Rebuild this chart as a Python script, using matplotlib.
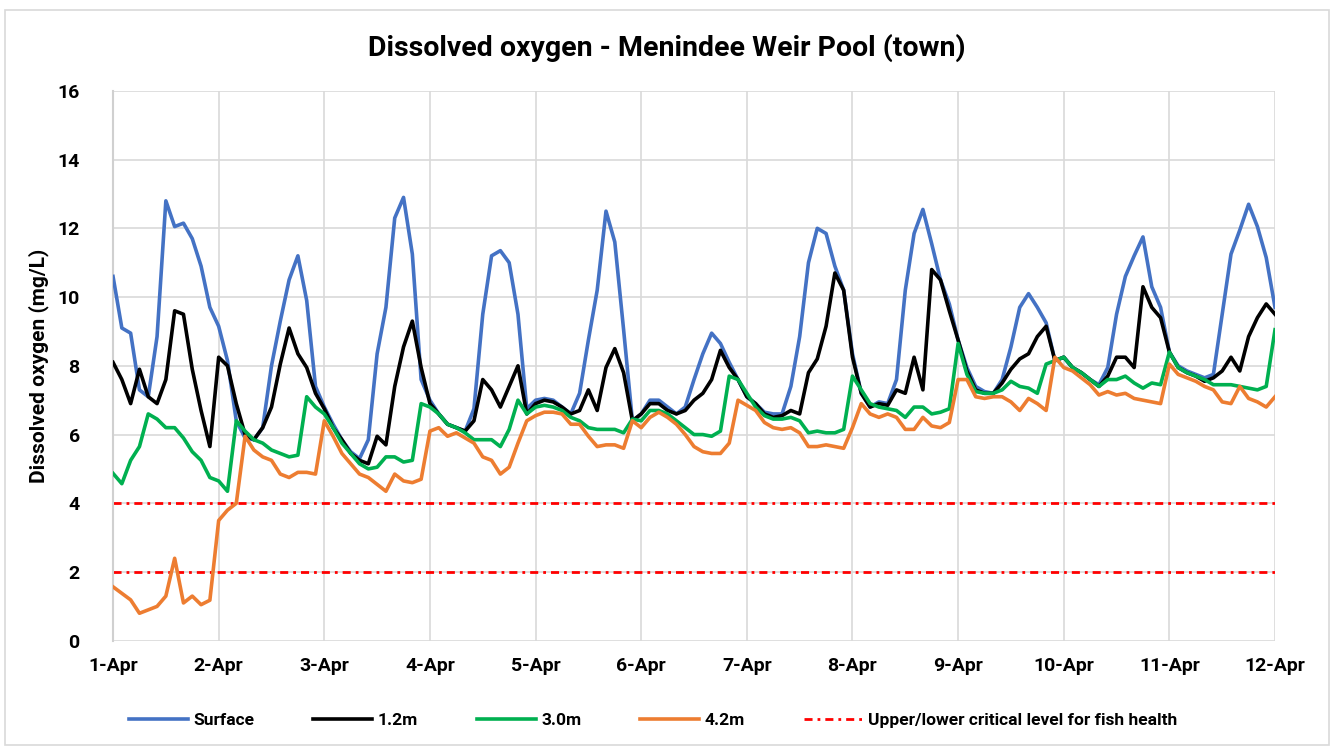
import numpy as np
import matplotlib
matplotlib.use('Agg')
import matplotlib.pyplot as plt
from matplotlib.patches import Rectangle

plt.rcParams['font.family'] = ['Roboto', 'DejaVu Sans']

# 2-hourly readings, 1-Apr 00:00 to 12-Apr 00:00
hours = np.arange(0, 265, 2)
day_labels = ['1-Apr', '2-Apr', '3-Apr', '4-Apr', '5-Apr', '6-Apr',
              '7-Apr', '8-Apr', '9-Apr', '10-Apr', '11-Apr', '12-Apr']

surface = [10.6, 9.1, 8.95, 7.3, 7.1, 8.85, 12.8, 12.05, 12.15, 11.7, 10.9, 9.7,
           9.15, 8.15, 6.4, 5.9, 5.85, 6.2, 8.0, 9.3, 10.5, 11.2, 9.9, 7.4,
           6.8, 6.3, 5.85, 5.5, 5.3, 5.85, 8.35, 9.7, 12.3, 12.9, 11.25, 7.6,
           7.0, 6.6, 6.3, 6.2, 6.1, 6.75, 9.5, 11.2, 11.35, 11.0, 9.5, 6.75,
           7.0, 7.05, 7.0, 6.8, 6.6, 7.2, 8.75, 10.2, 12.5, 11.6, 9.05, 6.4,
           6.6, 7.0, 7.0, 6.8, 6.6, 6.8, 7.6, 8.35, 8.95, 8.65, 8.1, 7.6,
           7.1, 6.9, 6.65, 6.6, 6.6, 7.4, 8.85, 11.0, 12.0, 11.85, 10.9, 10.2,
           8.35, 7.2, 6.8, 6.95, 6.9, 7.6, 10.2, 11.85, 12.55, 11.55, 10.5, 9.8,
           8.75, 7.95, 7.4, 7.25, 7.2, 7.6, 8.55, 9.7, 10.1, 9.7, 9.25, 8.15,
           8.25, 7.95, 7.8, 7.6, 7.45, 7.95, 9.5, 10.6, 11.2, 11.75, 10.3, 9.7,
           8.4, 8.0, 7.85, 7.75, 7.65, 7.75, 9.5, 11.25, 11.95, 12.7, 12.05, 11.15,
           9.7]

m1_2 = [8.1, 7.6, 6.9, 7.9, 7.1, 6.9, 7.6, 9.6, 9.5, 7.9, 6.7, 5.65,
        8.25, 8.0, 6.9, 6.0, 5.85, 6.2, 6.8, 8.05, 9.1, 8.35, 7.95, 7.2,
        6.75, 6.2, 5.85, 5.45, 5.25, 5.15, 5.95, 5.7, 7.4, 8.55, 9.3, 7.95,
        6.9, 6.6, 6.3, 6.2, 6.1, 6.4, 7.6, 7.3, 6.8, 7.4, 8.0, 6.6,
        6.9, 7.0, 6.95, 6.8, 6.6, 6.7, 7.3, 6.7, 7.95, 8.5, 7.8, 6.4,
        6.6, 6.9, 6.9, 6.7, 6.6, 6.7, 7.0, 7.2, 7.6, 8.45, 7.95, 7.6,
        7.1, 6.9, 6.6, 6.5, 6.55, 6.7, 6.6, 7.8, 8.2, 9.15, 10.7, 10.2,
        8.25, 7.2, 6.8, 6.9, 6.85, 7.3, 7.2, 8.25, 7.3, 10.8, 10.5, 9.6,
        8.75, 7.85, 7.3, 7.2, 7.2, 7.5, 7.9, 8.2, 8.35, 8.85, 9.15, 8.15,
        8.25, 7.95, 7.8, 7.6, 7.4, 7.7, 8.25, 8.25, 7.95, 10.3, 9.7, 9.4,
        8.4, 7.95, 7.8, 7.7, 7.55, 7.65, 7.85, 8.25, 7.85, 8.85, 9.4, 9.8,
        9.5]

m3_0 = [4.87, 4.57, 5.25, 5.65, 6.6, 6.45, 6.2, 6.2, 5.9, 5.5, 5.25, 4.75,
        4.65, 4.35, 6.4, 6.1, 5.85, 5.75, 5.55, 5.45, 5.35, 5.4, 7.1, 6.8,
        6.6, 6.2, 5.75, 5.45, 5.15, 5.0, 5.05, 5.35, 5.35, 5.2, 5.25, 6.9,
        6.8, 6.6, 6.3, 6.2, 6.05, 5.85, 5.85, 5.85, 5.65, 6.15, 7.0, 6.6,
        6.8, 6.85, 6.8, 6.7, 6.5, 6.4, 6.2, 6.15, 6.15, 6.15, 6.05, 6.45,
        6.4, 6.7, 6.7, 6.6, 6.4, 6.2, 6.0, 6.0, 5.95, 6.1, 7.7, 7.6,
        7.2, 6.8, 6.55, 6.45, 6.45, 6.5, 6.4, 6.05, 6.1, 6.05, 6.05, 6.15,
        7.7, 7.3, 6.9, 6.8, 6.75, 6.7, 6.5, 6.8, 6.8, 6.6, 6.65, 6.75,
        8.65, 7.75, 7.25, 7.2, 7.2, 7.3, 7.55, 7.4, 7.35, 7.2, 8.05, 8.15,
        8.25, 7.95, 7.8, 7.6, 7.4, 7.6, 7.6, 7.7, 7.5, 7.35, 7.5, 7.45,
        8.4, 7.95, 7.8, 7.7, 7.6, 7.45, 7.45, 7.45, 7.4, 7.35, 7.3, 7.4,
        9.05]

m4_2 = [1.57, 1.38, 1.19, 0.8, 0.9, 1.0, 1.3, 2.4, 1.1, 1.3, 1.05, 1.18,
        3.5, 3.8, 4.0, 5.95, 5.55, 5.35, 5.25, 4.85, 4.75, 4.9, 4.9, 4.85,
        6.4, 5.95, 5.45, 5.15, 4.85, 4.75, 4.55, 4.35, 4.85, 4.65, 4.6, 4.7,
        6.1, 6.2, 5.95, 6.05, 5.9, 5.75, 5.35, 5.25, 4.85, 5.05, 5.75, 6.4,
        6.55, 6.65, 6.65, 6.6, 6.3, 6.3, 5.95, 5.65, 5.7, 5.7, 5.6, 6.4,
        6.2, 6.5, 6.65, 6.5, 6.3, 6.0, 5.65, 5.5, 5.45, 5.45, 5.75, 7.0,
        6.85, 6.7, 6.35, 6.2, 6.15, 6.2, 6.05, 5.65, 5.65, 5.7, 5.65, 5.6,
        6.2, 6.9, 6.6, 6.5, 6.6, 6.5, 6.15, 6.15, 6.5, 6.25, 6.2, 6.35,
        7.6, 7.6, 7.1, 7.05, 7.1, 7.1, 6.95, 6.7, 7.05, 6.9, 6.7, 8.25,
        7.95, 7.85, 7.65, 7.45, 7.15, 7.25, 7.15, 7.2, 7.05, 7.0, 6.95, 6.9,
        8.05, 7.75, 7.65, 7.55, 7.4, 7.3, 6.95, 6.9, 7.4, 7.05, 6.95, 6.8,
        7.1]

critical_levels = [4, 2]

fig = plt.figure(figsize=(13.33, 7.47), dpi=100)
ax = fig.add_axes([0.0848, 0.1422, 0.8717, 0.7362])

days = hours / 24.0
ax.plot(days, surface, color='#4472C4', lw=2.6, label='Surface', zorder=3)
ax.plot(days, m1_2, color='black', lw=2.6, label='1.2m', zorder=4)
ax.plot(days, m3_0, color='#00B050', lw=2.6, label='3.0m', zorder=5)
ax.plot(days, m4_2, color='#ED7D31', lw=2.6, label='4.2m', zorder=6)
for i, lvl in enumerate(critical_levels):
    ax.plot([0, 11], [lvl, lvl], color='red', lw=2, dashes=(2.9, 1.8, 1, 1.8),
            label='Upper/lower critical level for fish health' if i == 0 else None,
            zorder=2)

ax.set_xlim(0, 11)
ax.set_ylim(0, 16)
ax.set_xticks(range(12))
ax.set_xticklabels(day_labels)
ax.set_yticks(range(0, 17, 2))
ax.tick_params(length=0, labelsize=14, pad=12)
for lab in ax.get_xticklabels() + ax.get_yticklabels():
    lab.set_fontweight('bold')
ax.tick_params(axis='y', pad=24)
ax.grid(True, color='#d9d9d9', lw=1.2)
ax.set_axisbelow(True)
for s in ['top', 'right', 'bottom']:
    ax.spines[s].set_visible(False)
ax.spines['left'].set_color('#d0d0d0')
ax.spines['left'].set_linewidth(1.5)

ax.set_ylabel('Dissolved oxygen (mg/L)', fontsize=15, fontweight='bold', labelpad=6)
fig.text(0.5, 0.936, 'Dissolved oxygen - Menindee Weir Pool (town)',
         ha='center', va='center', fontsize=20.5, fontweight='bold')

fig.legend(loc='center', bbox_to_anchor=(0.49, 0.036), ncol=5, frameon=False,
           prop={'size': 12.5, 'weight': 'bold'}, handlelength=3.4,
           columnspacing=3.4, handletextpad=0.3)

fig.patches.append(Rectangle((0.004, 0.003), 0.993, 0.984, transform=fig.transFigure,
                             fill=False, edgecolor='#d9d9d9', lw=1.2))

fig.savefig('out.png', dpi=100)
